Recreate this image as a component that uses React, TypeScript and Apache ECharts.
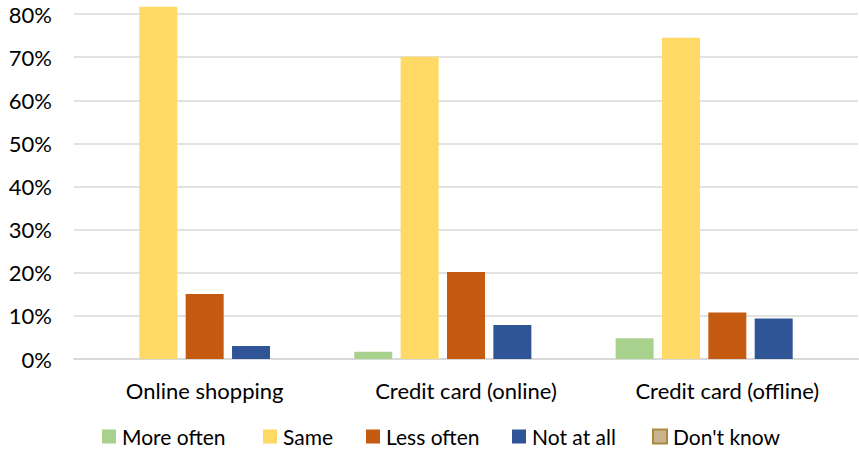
import React, { useEffect, useRef } from "react";
import * as echarts from "echarts";

const categories = ["Online shopping", "Credit card (online)", "Credit card (offline)"];
const seriesNames = ["More often", "Same", "Less often", "Not at all", "Don't know"];
const moreOften = [0, 1.7, 4.8];
const same = [81.7, 70.1, 74.5];
const lessOften = [15.1, 20.2, 10.8];
const notAtAll = [3.0, 7.9, 9.4];
const dontKnow = [0, 0, 0];
const yTicks = [0, 10, 20, 30, 40, 50, 60, 70, 80];

const colors = ["#a9d18e", "#ffd966", "#c55a11", "#2f5597", "#c9b28f"];
const borders = ["#a9d18e", "#ffd966", "#c55a11", "#2f5597", "#a88a3a"];
const legendLeft = [102, 263, 366, 512, 652];

const FONT = "Lato";
const FS = 22;
const LEGEND_FS = 21;

export default function App() {
  const ref = useRef<HTMLDivElement>(null);
  useEffect(() => {
    const chart = echarts.init(ref.current!, null, { renderer: "svg" });
    const data = [moreOften, same, lessOften, notAtAll, dontKnow];
    chart.setOption({
      animation: false,
      textStyle: { fontFamily: FONT },
      grid: { left: 74, right: 1, top: 14, bottom: 91, containLabel: false },
      legend: seriesNames.map((n, i) => ({
        left: legendLeft[i],
        top: 426,
        padding: 0,
        itemWidth: 14,
        itemHeight: 14,
        icon: "rect",
        textStyle: { fontSize: LEGEND_FS, color: "#000", fontFamily: FONT, padding: [0, 0, 0, 1] },
        data: [
          {
            name: n,
            itemStyle: i === 4 ? { color: colors[4], borderColor: borders[4], borderWidth: 2 } : { color: colors[i] },
          },
        ],
      })),
      xAxis: {
        type: "category",
        data: categories,
        axisTick: { show: false },
        axisLine: { lineStyle: { color: "#d9d9d9", width: 2 } },
        axisLabel: { fontSize: FS, color: "#000", margin: 20, fontFamily: FONT },
      },
      yAxis: {
        type: "value",
        min: 0,
        max: 80,
        interval: 10,
        axisLine: { show: false },
        axisTick: { show: false },
        splitLine: { lineStyle: { color: "#d9d9d9", width: 1.5 } },
        axisLabel: {
          fontSize: FS,
          color: "#000",
          margin: 22,
          fontFamily: FONT,
          formatter: (v: number) => (yTicks.includes(v) ? v + "%" : ""),
        },
      },
      series: seriesNames.map((n, i) => ({
        name: n,
        type: "bar",
        data: data[i],
        barWidth: 38,
        barGap: "22%",
        clip: false,
        itemStyle: { color: colors[i] },
      })),
    });
    return () => chart.dispose();
  }, []);
  return <div ref={ref} style={{ width: 859, height: 450, position: "absolute", left: 0, top: 0 }} />;
}
